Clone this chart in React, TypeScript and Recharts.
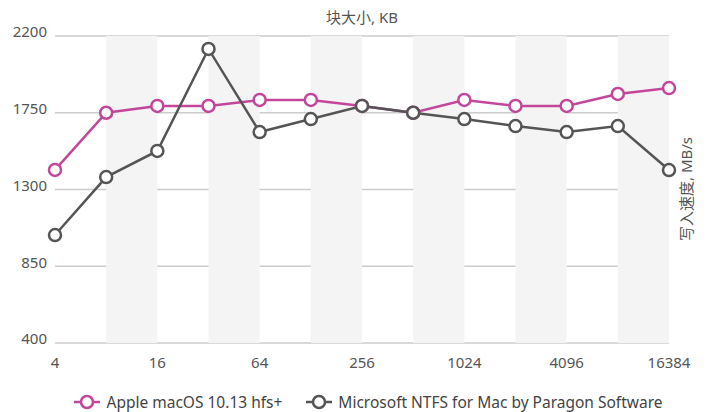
import React from 'react';
import { LineChart, Line, XAxis, YAxis, CartesianGrid, Legend, ReferenceArea } from 'recharts';

const categories = ['4', '8', '16', '32', '64', '128', '256', '512', '1024', '2048', '4096', '8192', '16384'];
const appleValues = [1415, 1750, 1790, 1790, 1825, 1825, 1790, 1750, 1825, 1790, 1790, 1860, 1895];
const paragonValues = [1033, 1373, 1526, 2124, 1637, 1713, 1790, 1750, 1713, 1672, 1637, 1672, 1414];
const yTicks = [400, 850, 1300, 1750, 2200];
const bands: [string, string][] = [
  ['8', '16'],
  ['32', '64'],
  ['128', '256'],
  ['512', '1024'],
  ['2048', '4096'],
  ['8192', '16384'],
];

const data = categories.map((c, i) => ({ cat: c, apple: appleValues[i], paragon: paragonValues[i] }));

const PINK = '#c2479b';
const GRAY = '#555555';
const FONT = '"Noto Sans", "Noto Sans CJK SC", sans-serif';

const renderLegend = (props: any) => {
  const payload = props.payload || [];
  return (
    <div style={{ display: 'flex', justifyContent: 'center', alignItems: 'center', height: 24, fontFamily: FONT, fontSize: 15.5, lineHeight: '22px', color: '#444' }}>
      {payload.map((entry: any, i: number) => (
        <div key={i} style={{ display: 'flex', alignItems: 'center', marginRight: i === 0 ? 24 : 0 }}>
          <svg width={26} height={16} style={{ marginRight: 6 }}>
            <line x1={0} y1={8} x2={26} y2={8} stroke={entry.color} strokeWidth={2.5} />
            <circle cx={13} cy={8} r={6} fill="#fff" stroke={entry.color} strokeWidth={2.5} />
          </svg>
          <span style={{ whiteSpace: 'nowrap' }}>{entry.value}</span>
        </div>
      ))}
    </div>
  );
};

export default function App() {
  return (
    <div style={{ position: 'absolute', left: 0, top: 0, width: 707, height: 412, fontFamily: FONT }}>
      <LineChart width={707} height={412} data={data} margin={{ top: 36, right: 38, bottom: 39, left: 0 }}>
        {bands.map(([a, b]) => (
          <ReferenceArea key={a} x1={a} x2={b} fill="#f4f4f4" fillOpacity={1} stroke="none" ifOverflow="visible" />
        ))}
        <CartesianGrid vertical={false} stroke="#cccccc" strokeWidth={1.5} />
        <XAxis
          dataKey="cat"
          interval={1}
          axisLine={false}
          tickLine={false}
          tickMargin={8}
          height={30}
          tick={{ fill: '#555', fontSize: 15, fontFamily: FONT }}
        />
        <YAxis
          domain={[400, 2200]}
          ticks={yTicks}
          width={55}
          axisLine={false}
          tickLine={false}
          tick={{ fill: '#555', fontSize: 15, fontFamily: FONT, dy: -4 }}
        />
        <Legend
          layout="horizontal"
          verticalAlign="middle"
          align="center"
          content={renderLegend}
          wrapperStyle={{ top: 390, left: 15, width: 707, height: 24 }}
        />
        <Line
          dataKey="apple"
          name="Apple macOS 10.13 hfs+"
          stroke={PINK}
          strokeWidth={2.5}
          dot={{ r: 6, fill: '#fff', stroke: PINK, strokeWidth: 2.5 }}
          activeDot={false}
          isAnimationActive={false}
        />
        <Line
          dataKey="paragon"
          name="Microsoft NTFS for Mac by Paragon Software"
          stroke={GRAY}
          strokeWidth={2.5}
          dot={{ r: 6, fill: '#fff', stroke: GRAY, strokeWidth: 2.5 }}
          activeDot={false}
          isAnimationActive={false}
        />
      </LineChart>
      <div style={{ position: 'absolute', top: 6, left: 55, width: 614, textAlign: 'center', fontSize: 15, color: '#555' }}>
        块大小, KB
      </div>
      <div
        style={{
          position: 'absolute',
          left: 606,
          top: 179,
          width: 160,
          height: 20,
          lineHeight: '20px',
          transform: 'rotate(-90deg)',
          transformOrigin: 'center',
          textAlign: 'center',
          fontSize: 15,
          color: '#555',
          whiteSpace: 'nowrap',
        }}
      >
        写入速度, MB/s
      </div>
    </div>
  );
}
